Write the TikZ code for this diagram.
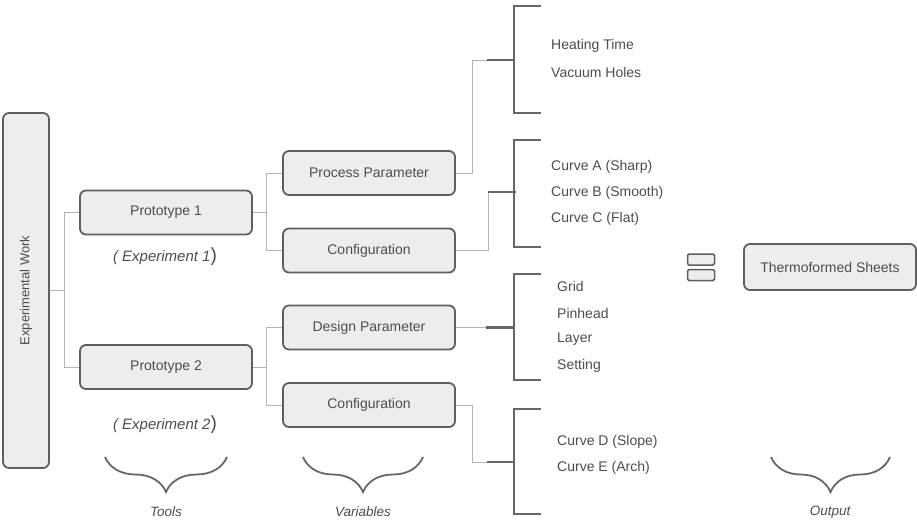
\documentclass[tikz,border=0pt]{standalone}
\usepackage{fontspec}
\setmainfont{Liberation Sans}
\usetikzlibrary{decorations.pathreplacing}
\definecolor{boxfill}{HTML}{EDEDED}
\definecolor{boxline}{HTML}{5F5F5F}
\definecolor{txt}{HTML}{4D4D4D}
\definecolor{thinline}{HTML}{B4B4B4}
\definecolor{barline}{HTML}{666666}
\tikzset{
  box/.style={draw=boxline, fill=boxfill, line width=1.8pt, rounded corners=6pt, text=txt,
    font=\fontsize{14}{16}\selectfont, minimum width=172pt, minimum height=44pt, inner sep=0pt},
  eqbox/.style={draw=boxline, fill=boxfill, line width=1.5pt, rounded corners=1.5pt,
    minimum width=27pt, minimum height=11pt, inner sep=0pt},
  link/.style={draw=thinline, line width=1pt},
  bar/.style={draw=barline, line width=2.8pt},
  item/.style={anchor=west, text=txt, font=\fontsize{14}{16}\selectfont, inner sep=0pt},
  tag/.style={text=txt, font=\fontsize{13.5}{16}\selectfont, inner sep=0pt},
  brc/.style={draw=barline, line width=1.8pt, decorate, decoration={brace, amplitude=35pt}}
}
\begin{document}
\begin{tikzpicture}[x=1pt,y=-1pt]
    \useasboundingbox (0,0) rectangle (917,519);
    % tools
    \node[box, rotate=90, minimum width=355pt, minimum height=46pt, font=\fontsize{13}{15}\selectfont] (exp) at (26,290.5) {Experimental Work};
    \node[box] (p1) at (166,212.5) {Prototype 1};
    \node[box] (p2) at (166,367) {Prototype 2};
    \node[tag, font=\fontsize{15}{17}\selectfont] (e1) at (165,257) {{\itshape ( Experiment 1}{\fontsize{19}{19}\selectfont )}};
    \node[tag, font=\fontsize{15}{17}\selectfont] (e2) at (165,425) {{\itshape ( Experiment 2}{\fontsize{19}{19}\selectfont )}};
    % variables
    \node[box] (pp) at (369,173) {Process Parameter};
    \node[box] (c1) at (369,250.5) {Configuration};
    \node[box] (dp) at (369,327.5) {Design Parameter};
    \node[box] (c2) at (369,405) {Configuration};
    % output
    \node[eqbox] (eqa) at (701,259.5) {};
    \node[eqbox] (eqb) at (701,275) {};
    \node[box, minimum height=46pt] (ts) at (830,267) {Thermoformed Sheets};

    \draw[link] (exp.south) -- ++(15,0) |- (p1.west);
    \draw[link] (exp.south) -- ++(15,0) |- (p2.west);
    \draw[link] (p1.east) -- ++(14,0) |- (pp.west);
    \draw[link] (p1.east) -- ++(14,0) |- (c1.west);
    \draw[link] (p2.east) -- ++(14,0) |- (dp.west);
    \draw[link] (p2.east) -- ++(14,0) |- (c2.west);

    \coordinate (j1) at (487,60);
    \coordinate (j2) at (488,192);
    \coordinate (j3) at (486,327.5);
    \coordinate (j4) at (487,462);
    \draw[link] (pp.east) -- ++(17,0) |- (j1);
    \draw[link] (c1.east) -| (j2);
    \draw[link] (dp.east) -- (j3);
    \draw[link] (c2.east) -- ++(17,0) |- (j4);
    \foreach \j in {j1,j2,j3,j4}
        {\draw[bar] (\j) -- ++(28,0);
        }
    \foreach \t/\b in {6/113,140/247,274/380,409/514}
        {\draw[bar] (541,\t) -- (514,\t) -- (514,\b) -- (541,\b);
        }

    \foreach \y/\s in {46/Heating Time,72/Vacuum Holes,167/Curve A (Sharp),193/Curve B (Smooth),219/Curve C (Flat)}
        {\node[item] (a\y) at (551,\y) {\s};
        }
    \foreach \y/\s in {286/Grid,313/Pinhead,339/Layer,366/Setting,442/Curve D (Slope),468/Curve E (Arch)}
        {\node[item] (b\y) at (557,\y) {\s};
        }

    \draw[brc] (227,457) -- (105,457);
    \draw[brc] (423,457) -- (303,457);
    \draw[brc] (890,457) -- (771,457);
    \node[tag] (tl) at (166,512) {\itshape Tools};
    \node[tag] (vl) at (363,512) {\itshape Variables};
    \node[tag] (ol) at (830,512) {\itshape Output};
\end{tikzpicture}
\end{document}
